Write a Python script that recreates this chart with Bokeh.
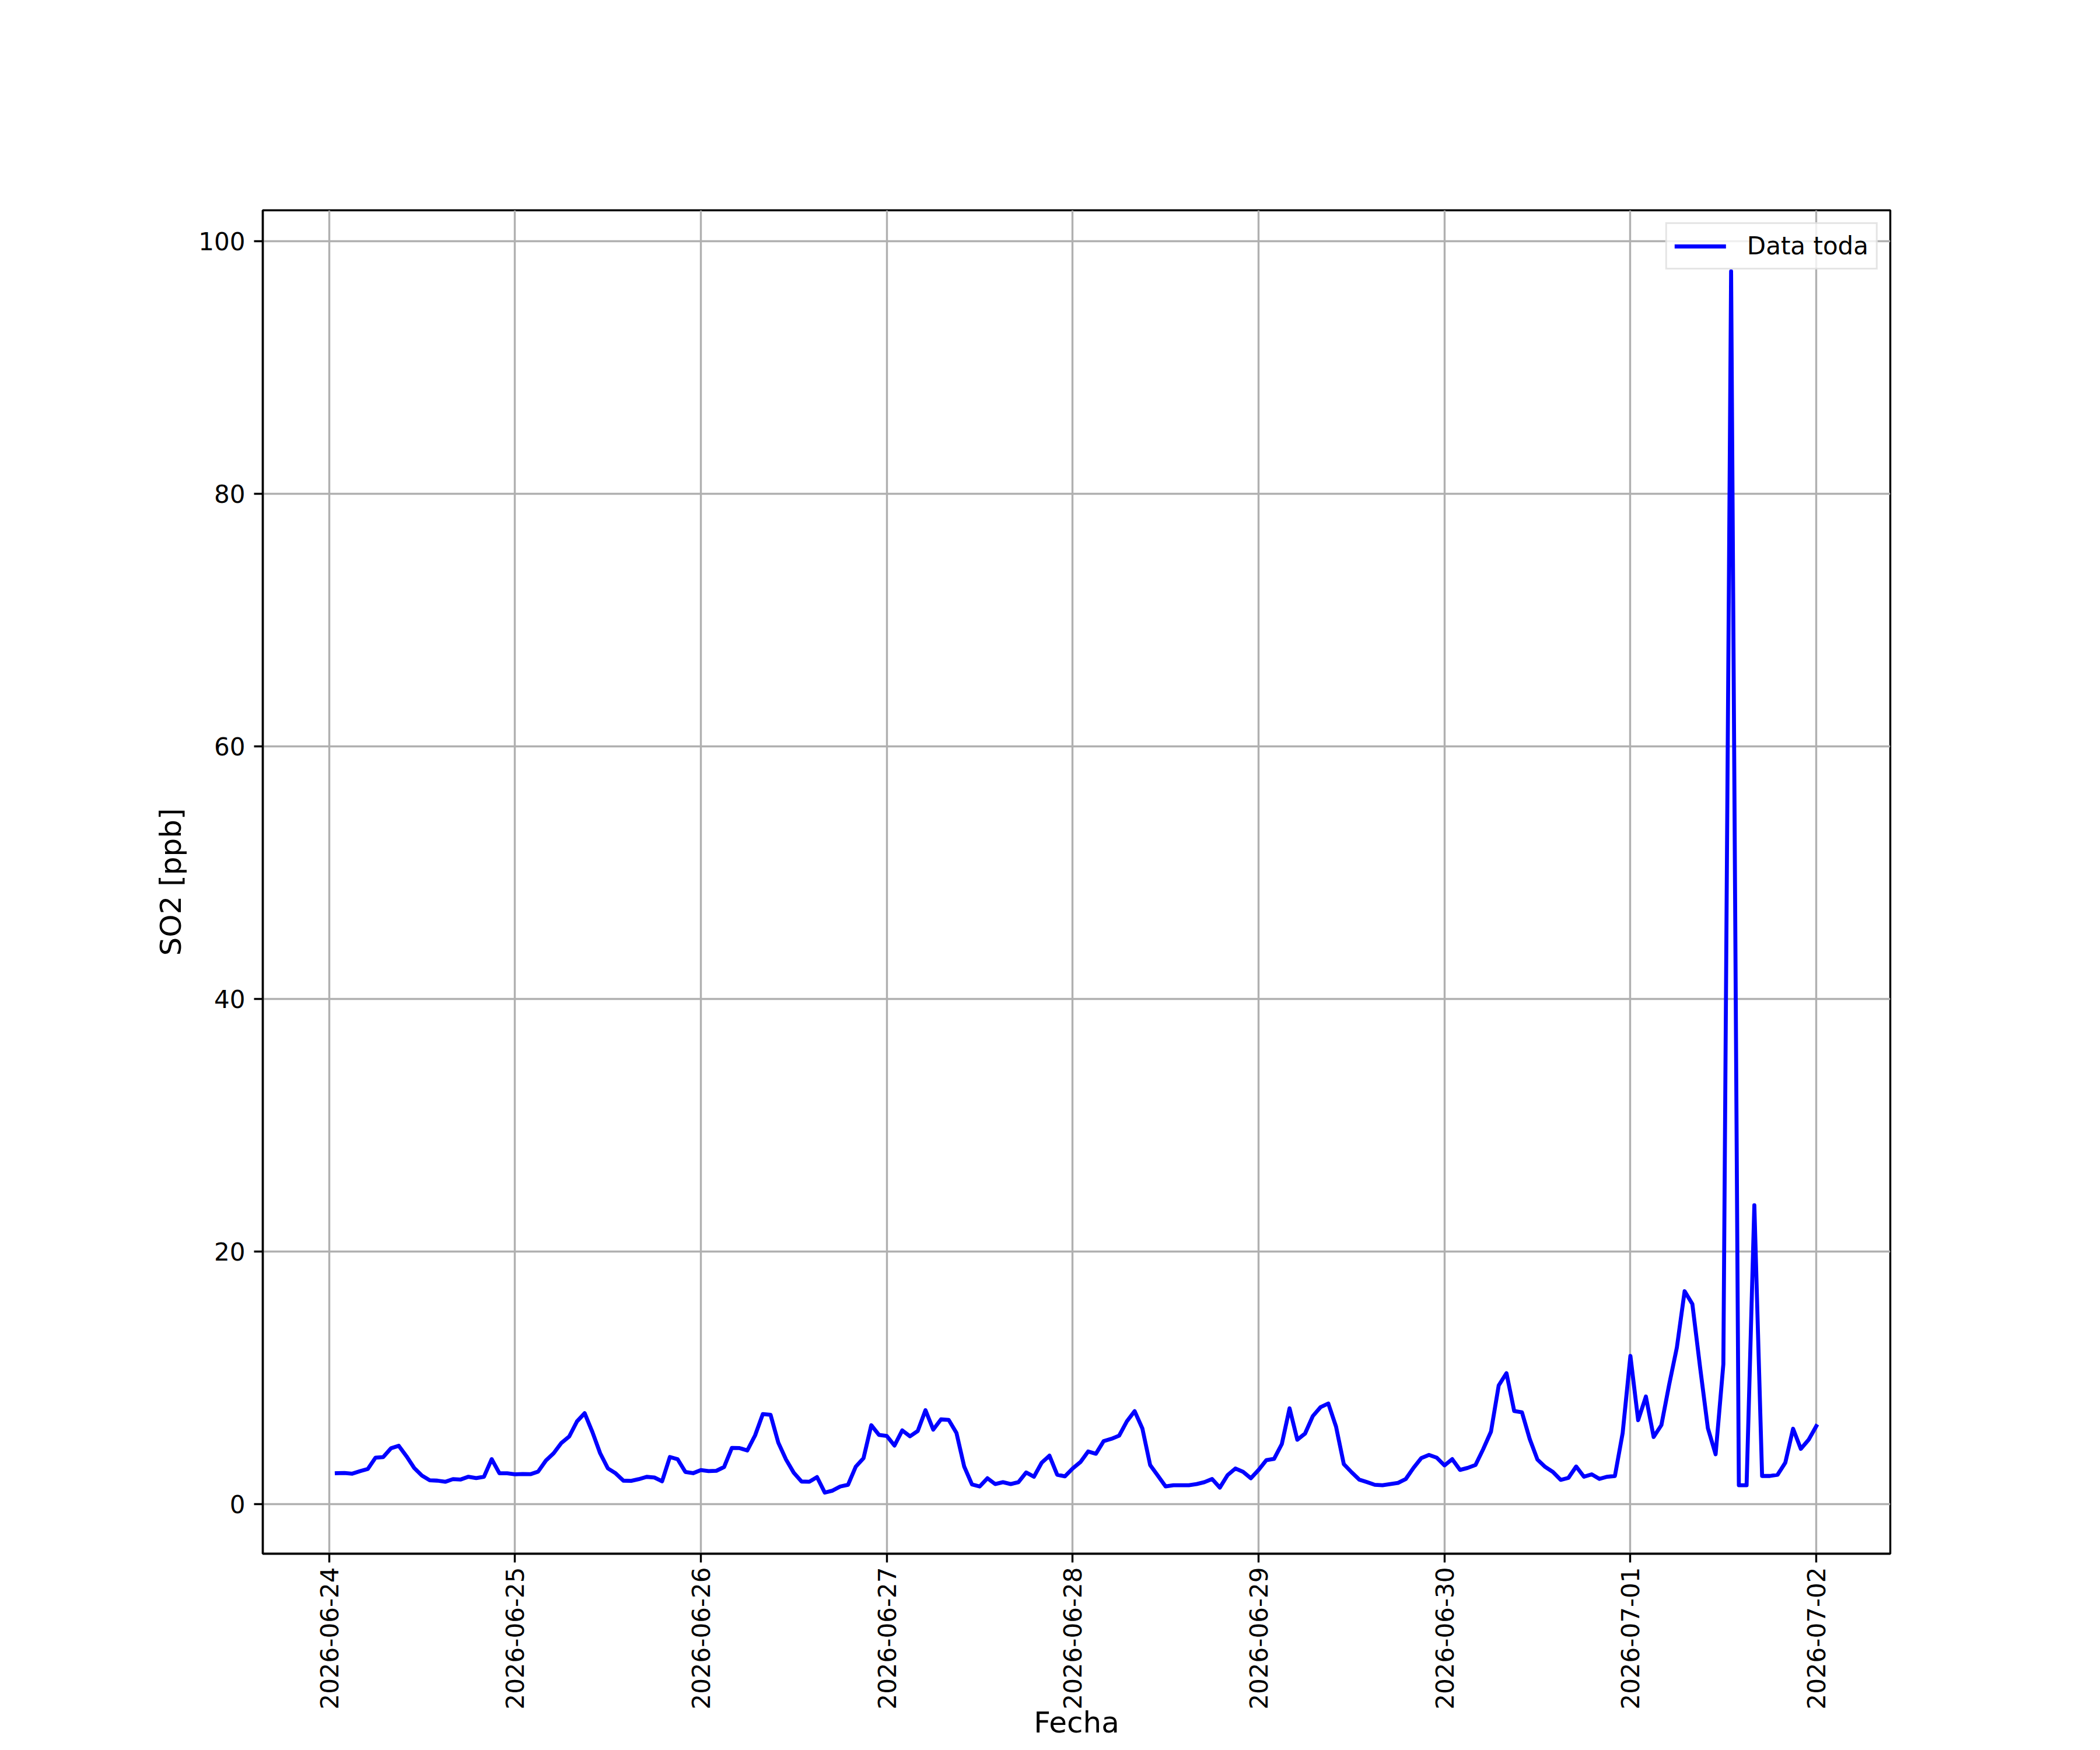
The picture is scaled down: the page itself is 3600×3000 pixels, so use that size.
import pandas as pd
from math import pi
from bokeh.plotting import figure
from bokeh.models import (Range1d, FixedTicker, DatetimeTickFormatter, Legend,
                          LegendItem, ColumnDataSource)
from bokeh.embed import file_html
from bokeh.resources import INLINE

# ---------------- data (hourly SO2 readings) ----------------
first_time = "2026-06-24 01:00"
so2_ppb = [
    2.43, 2.45, 2.39, 2.59, 2.76, 3.66, 3.71, 4.40, 4.60, 3.77, 2.84, 2.24,
    1.87, 1.84, 1.75, 1.96, 1.93, 2.15, 2.04, 2.15, 3.54, 2.42, 2.42, 2.34,
    2.37, 2.35, 2.56, 3.43, 4.01, 4.83, 5.33, 6.52, 7.18, 5.69, 4.01, 2.81,
    2.42, 1.84, 1.82, 1.96, 2.14, 2.09, 1.79, 3.71, 3.54, 2.53, 2.43, 2.68,
    2.60, 2.62, 2.92, 4.43, 4.42, 4.23, 5.42, 7.11, 7.05, 4.85, 3.51, 2.46,
    1.77, 1.75, 2.12, 0.89, 1.05, 1.38, 1.51, 2.95, 3.62, 6.23, 5.46, 5.38,
    4.62, 5.82, 5.35, 5.77, 7.42, 5.88, 6.69, 6.65, 5.62, 2.95, 1.54, 1.38,
    2.03, 1.57, 1.72, 1.57, 1.72, 2.49, 2.15, 3.26, 3.82, 2.31, 2.18, 2.80,
    3.31, 4.15, 3.97, 4.97, 5.15, 5.40, 6.54, 7.34, 5.97, 3.08, 2.23, 1.38,
    1.48, 1.48, 1.48, 1.57, 1.72, 1.97, 1.29, 2.28, 2.80, 2.54, 2.03, 2.69,
    3.46, 3.57, 4.74, 7.57, 5.08, 5.57, 6.95, 7.66, 7.95, 6.12, 3.15, 2.51,
    1.92, 1.72, 1.51, 1.48, 1.57, 1.66, 1.97, 2.85, 3.62, 3.88, 3.66, 3.05,
    3.54, 2.69, 2.85, 3.08, 4.34, 5.72, 9.38, 10.35, 7.35, 7.25, 5.14, 3.51,
    2.93, 2.53, 1.90, 2.06, 2.96, 2.15, 2.34, 1.98, 2.15, 2.21, 5.61, 11.72,
    6.63, 8.50, 5.30, 6.24, 9.43, 12.39, 16.84, 15.82, 10.80, 6.00, 3.93, 11.07,
    97.60, 1.48, 1.48, 23.65, 2.21, 2.21, 2.31, 3.27, 5.95, 4.36, 5.07, 6.16,
]
tick_dates = ["2026-06-24", "2026-06-25", "2026-06-26", "2026-06-27", "2026-06-28",
              "2026-06-29", "2026-06-30", "2026-07-01", "2026-07-02"]
y_tick_values = [0, 20, 40, 60, 80, 100]
series_name = "Data toda"
x_title = "Fecha"
y_title = "SO2 [ppb]"

times = pd.date_range(first_time, periods=len(so2_ppb), freq="h")

# ---------------- layout ----------------
W, H = 3584, 2984
FW, FH = 2790, 2310
BL, BT = 450, 360
BR, BB = W - BL - FW, H - BT - FH
FONT = "DejaVu Sans"
LW = 3.4

t_first = times[0].value / 1e6
t_last = times[-1].value / 1e6
xpad = 0.05 * (t_last - t_first)
ymin, ymax = min(so2_ppb), max(so2_ppb)
ypad = 0.05 * (ymax - ymin)

p = figure(width=W, height=H, x_axis_type="datetime", output_backend="svg",
           toolbar_location=None, min_border_left=BL, min_border_right=BR,
           min_border_top=BT, min_border_bottom=BB,
           x_range=Range1d(t_first - xpad, t_last + xpad),
           y_range=Range1d(ymin - ypad, ymax + ypad))
p.background_fill_color = "white"
p.border_fill_color = "white"
p.outline_line_color = "black"
p.outline_line_width = LW

src = ColumnDataSource(dict(t=times, v=so2_ppb))
r = p.line("t", "v", source=src, line_color="#0000ff", line_width=6.8,
           line_join="round", line_cap="square")

tick_ms = [pd.Timestamp(d).value / 1e6 for d in tick_dates]
p.xaxis.ticker = FixedTicker(ticks=tick_ms)
fmt = "%Y-%m-%d"
p.xaxis.formatter = DatetimeTickFormatter(
    milliseconds=fmt, seconds=fmt, minsec=fmt, minutes=fmt, hourmin=fmt,
    hours=fmt, days=fmt, months=fmt, years=fmt)
p.xaxis.major_label_orientation = pi / 2
p.yaxis.ticker = FixedTicker(ticks=y_tick_values)

for ax in (p.xaxis[0], p.yaxis[0]):
    ax.axis_line_color = "black"
    ax.axis_line_width = LW
    ax.major_tick_line_color = "black"
    ax.major_tick_line_width = LW
    ax.major_tick_out = 15
    ax.major_tick_in = 0
    ax.minor_tick_out = 0
    ax.minor_tick_in = 0
    ax.major_label_standoff = 15
    ax.major_label_text_font = FONT
    ax.major_label_text_font_size = "42px"
    ax.major_label_text_color = "black"
    ax.axis_label_text_font = FONT
    ax.axis_label_text_font_size = "50px"
    ax.axis_label_text_font_style = "normal"
    ax.axis_label_text_color = "black"

p.xaxis.major_label_standoff = 8
p.xaxis.axis_label = x_title
p.xaxis.axis_label_standoff = -10
p.yaxis.axis_label = y_title
p.yaxis.axis_label_standoff = 15

for g in (p.xgrid[0], p.ygrid[0]):
    g.grid_line_color = "#b0b0b0"
    g.grid_line_width = LW

legend = Legend(items=[LegendItem(label=series_name, renderers=[r])],
                location="top_right", margin=21, padding=13, spacing=0,
                glyph_width=88, glyph_height=20, label_standoff=36,
                label_text_font=FONT, label_text_font_size="42px",
                label_text_color="black",
                border_line_color="#cccccc", border_line_width=3.5,
                background_fill_color="white", background_fill_alpha=0.8)
p.add_layout(legend)

open("out.html", "w").write(file_html(p, INLINE))
